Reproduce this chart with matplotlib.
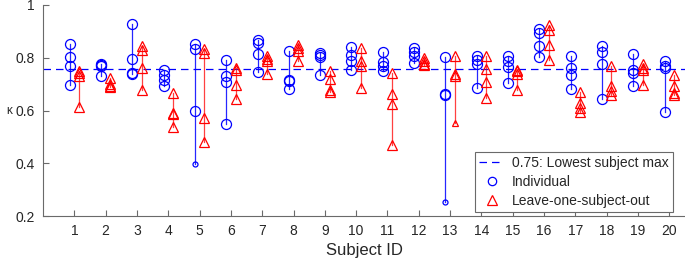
import matplotlib
matplotlib.use("Agg")
import matplotlib.pyplot as plt
from matplotlib.lines import Line2D

plt.rcParams['font.family'] = ['Liberation Sans', 'DejaVu Sans']

subjects = list(range(1, 21))
threshold = 0.756
threshold_label = "0.75: Lowest subject max"

individual = [
    [0.852, 0.801, 0.767, 0.695],
    [0.776, 0.771, 0.768, 0.732],
    [0.928, 0.795, 0.742, 0.740],
    [0.755, 0.736, 0.717, 0.694],
    [0.852, 0.833, 0.597, 0.399],
    [0.792, 0.732, 0.707, 0.547],
    [0.868, 0.855, 0.814, 0.745],
    [0.826, 0.716, 0.710, 0.682],
    [0.818, 0.809, 0.801, 0.733],
    [0.840, 0.811, 0.786, 0.755],
    [0.820, 0.782, 0.767, 0.751],
    [0.837, 0.820, 0.805, 0.780],
    [0.801, 0.663, 0.658, 0.254],
    [0.805, 0.792, 0.777, 0.686],
    [0.805, 0.786, 0.765, 0.705],
    [0.908, 0.893, 0.845, 0.803],
    [0.808, 0.761, 0.736, 0.682],
    [0.845, 0.820, 0.777, 0.644],
    [0.814, 0.752, 0.742, 0.692],
    [0.786, 0.767, 0.761, 0.594],
]

loso = [
    [0.748, 0.743, 0.732, 0.615],
    [0.722, 0.700, 0.694, 0.689],
    [0.843, 0.828, 0.761, 0.677],
    [0.667, 0.591, 0.585, 0.538],
    [0.833, 0.818, 0.570, 0.480],
    [0.761, 0.752, 0.698, 0.642],
    [0.805, 0.795, 0.786, 0.740],
    [0.849, 0.837, 0.824, 0.786],
    [0.748, 0.720, 0.677, 0.669],
    [0.837, 0.789, 0.767, 0.686],
    [0.742, 0.664, 0.623, 0.468],
    [0.799, 0.786, 0.776, 0.771],
    [0.805, 0.740, 0.732, 0.551],
    [0.808, 0.757, 0.707, 0.648],
    [0.755, 0.748, 0.740, 0.679],
    [0.925, 0.906, 0.849, 0.792],
    [0.669, 0.629, 0.610, 0.594],
    [0.767, 0.694, 0.673, 0.660],
    [0.776, 0.761, 0.752, 0.698],
    [0.736, 0.694, 0.667, 0.660],
]

# style: (subject index, point index) -> marker size for the few smaller markers
small_ind = {(4, 3): 3.6, (12, 3): 3.6}
small_loso = {(12, 3): 4.5}

fig = plt.figure(figsize=(6.85, 2.66), dpi=100)
ax = fig.add_axes([43/685, 50/266, 642/685, 211/266])

axis_col = '#6a6a6a'
text_col = '#262626'
blue = (0, 0, 1)
red = (1, 0, 0)
off = 0.15

ax.axhline(threshold, color=blue, lw=0.9, dashes=(6, 4), zorder=1)

for i, s in enumerate(subjects):
    xi = s - off
    xl = s + off
    vi = individual[i]
    vl = loso[i]
    ax.plot([xi, xi], [min(vi), max(vi)], color=blue, lw=0.9, alpha=0.85, zorder=2)
    ax.plot([xl, xl], [min(vl), max(vl)], color=red, lw=0.9, alpha=0.75, zorder=2)
    for j, v in enumerate(vi):
        ms = small_ind.get((i, j), 7.2)
        ax.plot([xi], [v], 'o', mfc='none', mec=blue, mew=0.9, ms=ms, zorder=3)
    for j, v in enumerate(vl):
        ms = small_loso.get((i, j), 7.8)
        ax.plot([xl], [v], '^', mfc='none', mec=red, mew=0.9, ms=ms, zorder=3)

ax.set_xlim(0, 20.5)
ax.set_ylim(0.2, 1.0)
ax.set_xticks(subjects)
ax.set_yticks([0.2, 0.4, 0.6, 0.8, 1.0])
ax.set_yticklabels(['0.2', '0.4', '0.6', '0.8', '1'])
ax.tick_params(direction='in', length=4, width=0.8, color=axis_col,
               labelsize=10, labelcolor=text_col, pad=6)
for side in ['top', 'right']:
    ax.spines[side].set_visible(False)
for side in ['left', 'bottom']:
    ax.spines[side].set_color(axis_col)
    ax.spines[side].set_linewidth(0.8)

ax.set_xlabel('Subject ID', fontsize=12, color=text_col, labelpad=3)
ax.set_ylabel('κ', fontsize=8.5, color=text_col, rotation=0, va='center', ha='center')
ax.yaxis.set_label_coords(-0.053, 0.5)

handles = [
    Line2D([], [], color=blue, lw=0.9, dashes=(6, 4)),
    Line2D([], [], ls='none', marker='o', mfc='none', mec=blue, mew=0.9, ms=6),
    Line2D([], [], ls='none', marker='^', mfc='none', mec=red, mew=0.9, ms=6.5),
]
labels = [threshold_label, 'Individual', 'Leave-one-subject-out']
leg = ax.legend(handles, labels, loc='lower right', bbox_to_anchor=(0.981, 0.02),
                borderaxespad=0, fontsize=10, frameon=True, fancybox=False,
                framealpha=1, edgecolor=axis_col, handlelength=1.8,
                handletextpad=0.55, labelspacing=0.35, borderpad=0.3)
leg.get_frame().set_linewidth(0.8)
for t in leg.get_texts():
    t.set_color(text_col)

fig.savefig('out.png', dpi=100)
